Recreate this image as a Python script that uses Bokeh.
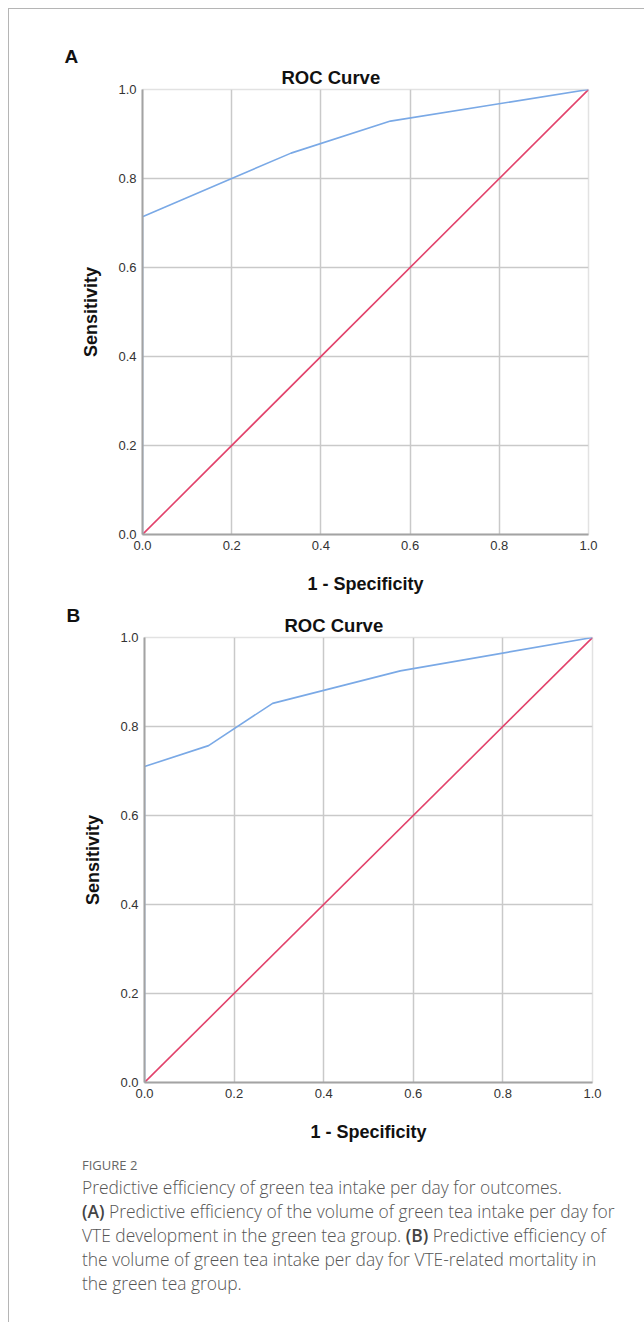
from bokeh.plotting import figure
from bokeh.models import Range1d, FixedTicker, PrintfTickFormatter, Title, Div, InlineStyleSheet
from bokeh.layouts import column, row
from bokeh.embed import file_html
from bokeh.resources import INLINE

# ---- data ----
fpr_a = [0.0, 0.0, 0.2, 0.333, 0.556, 1.0]
tpr_a = [0.0, 0.714, 0.8, 0.857, 0.929, 1.0]
fpr_b = [0.0, 0.0, 0.143, 0.286, 0.571, 1.0]
tpr_b = [0.0, 0.71, 0.757, 0.852, 0.925, 1.0]
ref_x = [0.0, 1.0]
ref_y = [0.0, 1.0]
ticks = [0.0, 0.2, 0.4, 0.6, 0.8, 1.0]
panel_labels = ["A", "B"]
chart_title = "ROC Curve"
x_label = "1 - Specificity"
y_label = "Sensitivity"

BLUE = "#7aa9e6"
RED = "#e2426b"
GRID = "#c9c9c9"
AX = "#a3a3a3"
FONT = "Liberation Sans"


def make_panel(fx, ty, letter, w, h, bl, bt, br, bb, title_off, letter_standoff):
    p = figure(width=w, height=h, title=None,
               min_border_left=bl, min_border_top=bt,
               min_border_right=br, min_border_bottom=bb,
               x_range=Range1d(0, 1), y_range=Range1d(0, 1),
               output_backend="svg", toolbar_location=None,
               background_fill_color="white", border_fill_color="white")
    p.outline_line_color = "#e2e2e2"
    p.outline_line_width = 1.5
    p.add_layout(Title(text=chart_title, align="left", offset=title_off,
                       standoff=3, text_font=FONT, text_font_size="18.5px",
                       text_font_style="bold", text_color="#111111"), "above")
    p.add_layout(Title(text=letter, align="left", offset=-78, standoff=letter_standoff,
                       text_font=FONT, text_font_size="19px",
                       text_font_style="bold", text_color="#111111"), "above")
    for ax in (p.xaxis, p.yaxis):
        ax.ticker = FixedTicker(ticks=ticks)
        ax.formatter = PrintfTickFormatter(format="%.1f")
        ax.major_tick_out = 0
        ax.major_tick_in = 0
        ax.minor_tick_out = 0
        ax.minor_tick_in = 0
        ax.axis_line_color = AX
        ax.axis_line_width = 2
        ax.major_label_text_font = FONT
        ax.major_label_text_font_size = "13px"
        ax.major_label_text_color = "#333333"
        ax.axis_label_text_font = FONT
        ax.axis_label_text_font_size = "18px"
        ax.axis_label_text_font_style = "bold"
        ax.axis_label_text_color = "#111111"
    p.xaxis.axis_label = x_label
    p.yaxis.axis_label = y_label
    p.xaxis.major_label_standoff = 6
    p.yaxis.major_label_standoff = 6
    p.xaxis.axis_label_standoff = 21
    p.yaxis.axis_label_standoff = 14
    p.grid.grid_line_color = GRID
    p.grid.grid_line_width = 1.5
    p.grid.ticker = FixedTicker(ticks=[0.2, 0.4, 0.6, 0.8])
    p.line(ref_x, ref_y, line_color=RED, line_width=1.6)
    p.line(fx, ty, line_color=BLUE, line_width=1.6)
    return p


pa = make_panel(fpr_a, tpr_a, panel_labels[0], 635, 591, 133, 80, 56, 66, 139, -6)
pb = make_panel(fpr_b, tpr_b, panel_labels[1], 635, 545, 135, 37, 52, 63, 140, -29)

caption_html = """
<div style="padding-left:68px;padding-top:5px;font-family:'Open Sans';font-weight:300;color:#555555;font-size:17.4px;line-height:24px;white-space:nowrap;">
<div style="font-size:13px;color:#666666;line-height:20px;font-weight:400;">FIGURE 2</div>
<div>Predictive efficiency of green tea intake per day for outcomes.<br>
<b style="font-weight:600;color:#444444">(A)</b> Predictive efficiency of the volume of green tea intake per day for<br>
VTE development in the green tea group. <b style="font-weight:600;color:#444444">(B)</b> Predictive efficiency of<br>
the volume of green tea intake per day for VTE-related mortality in<br>
the green tea group.</div>
</div>
"""
cap = Div(text=caption_html, width=635, height=169)

border_css = InlineStyleSheet(css=":host { margin-left: 8px !important; margin-top: 8px !important; border-top: 1px solid #b5b5b5 !important; border-left: 1px solid #b5b5b5 !important; }")
layout = column(row(pa), row(pb), cap, spacing=0, stylesheets=[border_css])

open("out.html", "w").write(file_html(layout, INLINE))
